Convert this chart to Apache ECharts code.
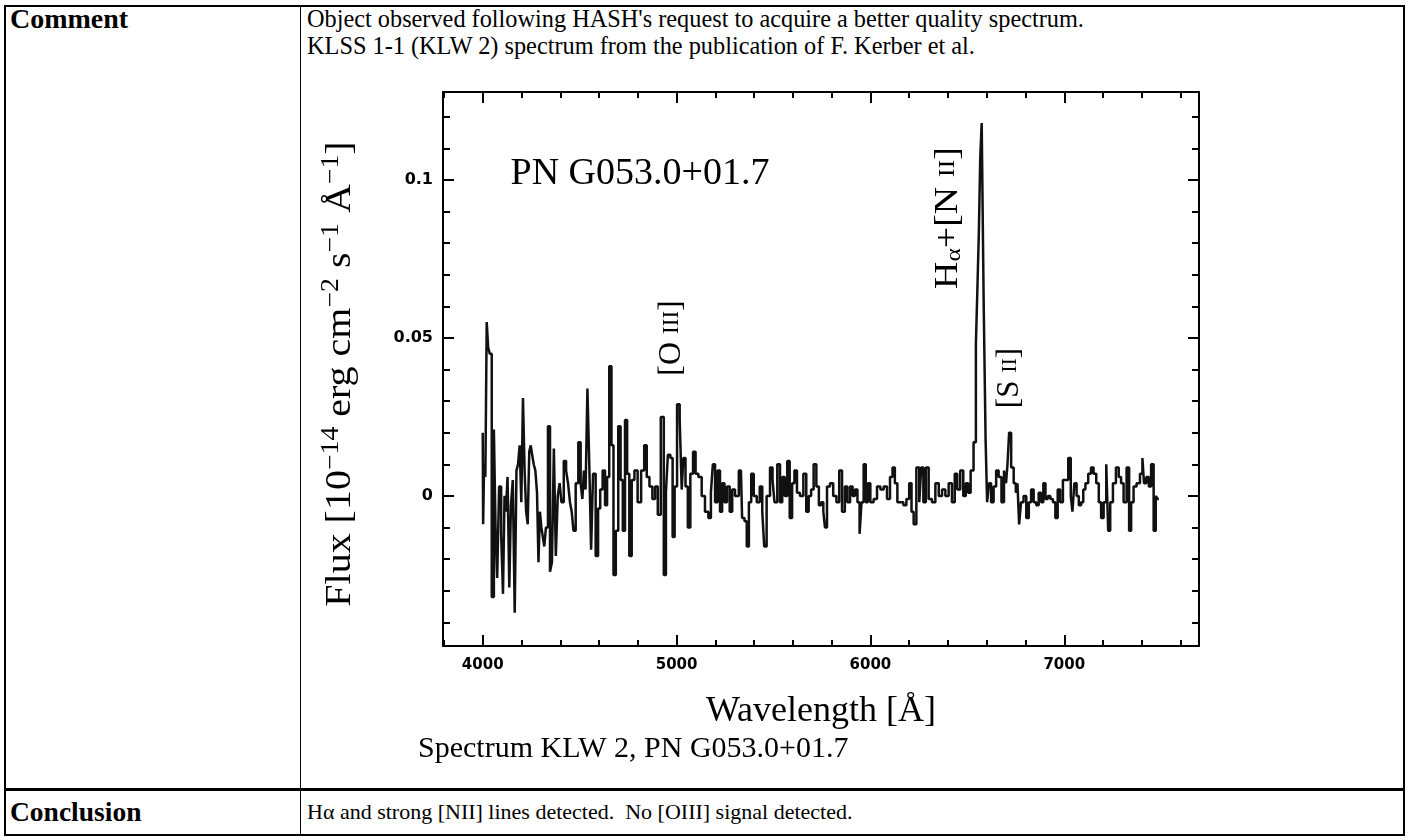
<!DOCTYPE html>
<html>
<head>
<meta charset="utf-8">
<script src="https://cdn.jsdelivr.net/npm/echarts@6/dist/echarts.min.js"></script>
<style>
  html, body { margin:0; padding:0; background:#fff; width:1410px; height:840px; overflow:hidden; }
  .line { position:absolute; background:#000; }
  .txt { position:absolute; font-family:"Liberation Serif","Times New Roman",serif; color:#000; white-space:nowrap; }
  .b { font-weight:bold; }
  #chart { position:absolute; left:0; top:0; width:1410px; height:840px; }
</style>
</head>
<body>
<div class="line" style="left:4px;top:5px;width:1401px;height:2px;"></div>
<div class="line" style="left:4px;top:834px;width:1401px;height:2px;"></div>
<div class="line" style="left:4px;top:5px;width:2px;height:831px;"></div>
<div class="line" style="left:1403px;top:5px;width:2px;height:831px;"></div>
<div class="line" style="left:300px;top:5px;width:1px;height:831px;"></div>
<div class="line" style="left:4px;top:788px;width:1401px;height:3px;"></div>

<div class="txt b" style="left:10px;top:4px;font-size:28px;line-height:30px;">Comment</div>
<div class="txt" style="left:307px;top:5px;font-size:24.3px;line-height:27px;">Object observed following HASH's request to acquire a better quality spectrum.<br>KLSS 1-1 (KLW 2) spectrum from the publication of F. Kerber et al.</div>
<div class="txt b" style="left:10px;top:797px;font-size:27.5px;line-height:30px;">Conclusion</div>
<div class="txt" style="left:307px;top:798px;font-size:22px;line-height:28px;">Hα and strong [NII] lines detected.&nbsp; No [OIII] signal detected.</div>

<div id="chart"></div>
<script>
// ---------------- data ----------------
const wavelength = [
  4000,4004,4010,4017,4024,4032,4040,4053,4062,4070,4079,4090,4100,4109,4116,4123,4133,4141,4150,4160,
  4170,4178,4186,4195,4203,4212,4220,4228,4236,4244,4251,4259,4267,4276,4284,4291,4299,4306,4314,4321,
  4331,4342,4352,4362,4372,4382,4392,4401,4411,4425,4435,4445,4455,4463,4473,4486,4500,4510,4518,4526,
  4535,4545,4555,4563,4575,4590,4600,4612,4625,4637,4646,4659,4669,4680,4693,4705,4717,4728,4740,4750,
  4762,4775,4790,4808,4826,4840,4852,4868,4882,4896,
  4910,4927,4941,4949,4961,4975,4984,4996,5009,5023,5030,5040,5052,5064,5078,5092,5104,5121,5138,5155,
  5173,5181,5193,5204,5219,5229,5241,5253,5267,5281,5293,5310,5332,5344,5357,5367,5379,5391,5405,5422,
  5436,5448,5456,5473,5491,5499,5511,5528,5539,5551,5565,5577,5590,5602,5614,5628,5645,5663,5675,5688,
  5700,5714,5728,5740,5752,5762,5769,5783,5800,
  5816,5833,5845,5862,5874,5888,5902,5914,5926,5940,5948,5960,5970,5982,5991,6008,6025,6043,6060,6077,
  6094,6108,6120,6132,6146,6163,6177,6194,6206,6218,6228,6246,6258,6266,6280,6292,6309,6326,6344,6361,
  6378,6395,6412,6429,6441,6455,6472,6486,6498,6510,6524,6540,6548,6556,6563,6570,6578,6590,6598,6606,
  6618,6627,6644,6653,6670,6682,6696,6703,6711,6720,6732,6746,6754,6763,6771,6783,6797,6811,6823,6835,
  6849,6862,6874,6887,6897,6909,6921,6935,6948,6960,6972,6986,7000,7012,7029,7038,7046,7058,7069,7081,
  7093,7103,7115,7132,7144,7158,7172,7184,7196,7210,7223,7230,7244,7258,7275,7287,7299,7313,7330,7339,
  7351,7364,7382,7399,7407,7416,7430,7442,7454,7468,7476,7488
];
const flux = [
  0.020,-0.009,0.010,0.006,0.055,0.047,0.045,-0.032,0.021,-0.010,-0.026,0.003,-0.012,-0.031,0.000,-0.005,0.006,-0.029,-0.003,0.005,
  -0.037,0.008,0.010,0.016,-0.002,0.031,0.008,-0.005,-0.009,0.014,0.016,0.013,0.010,0.008,0.001,-0.021,-0.005,-0.010,-0.013,-0.016,
  -0.010,0.022,-0.024,-0.021,0.015,-0.019,0.000,0.004,-0.002,0.011,0.008,0.004,-0.002,-0.005,-0.011,0.004,0.017,0.004,-0.001,0.008,
  0.002,0.034,0.009,-0.017,0.007,-0.019,-0.004,0.002,0.008,-0.003,0.006,0.041,0.016,-0.025,-0.011,0.022,0.005,-0.011,0.024,0.007,
  -0.019,0.005,0.008,-0.002,0.008,0.016,0.006,0.003,-0.001,0.003,
  -0.006,0.025,-0.025,0.001,0.013,0.012,-0.013,0.003,0.029,0.024,0.002,0.012,0.003,-0.010,0.007,0.014,0.007,0.006,0.000,-0.005,
  -0.007,0.001,0.010,-0.002,0.008,-0.005,0.004,-0.002,0.003,-0.005,0.002,0.000,0.008,-0.007,-0.008,-0.016,-0.002,0.007,0.000,-0.002,
  0.003,-0.005,-0.016,0.000,0.009,0.005,-0.002,0.010,-0.002,0.006,0.000,0.011,-0.007,0.004,0.008,0.001,0.000,0.007,-0.005,0.000,
  0.002,0.010,0.003,-0.003,-0.002,-0.005,-0.010,0.003,0.004,
  0.000,-0.002,0.008,-0.005,0.003,-0.002,0.003,0.000,0.002,-0.002,-0.012,-0.002,0.010,-0.002,0.004,-0.002,-0.001,0.003,0.002,0.003,
  -0.001,0.006,0.009,0.004,-0.002,-0.002,-0.003,-0.001,0.004,-0.005,-0.009,0.009,-0.002,0.009,-0.002,0.009,-0.001,-0.002,0.004,0.000,
  0.002,0.000,0.004,-0.002,0.007,0.002,0.008,0.000,0.004,0.001,0.008,0.017,0.048,0.066,0.084,0.107,0.118,0.062,0.018,-0.002,
  0.004,-0.002,0.003,0.008,0.006,-0.002,0.008,0.004,0.010,0.020,0.009,0.004,0.001,0.004,-0.009,-0.002,0.000,-0.007,-0.002,0.002,
  -0.002,-0.003,0.001,-0.002,0.004,-0.001,0.000,-0.001,-0.002,-0.007,0.002,-0.002,0.005,0.005,0.012,0.000,-0.005,0.004,0.000,-0.003,
  -0.002,0.002,0.004,0.007,0.009,0.007,0.004,-0.002,-0.007,-0.002,0.010,-0.011,-0.002,0.004,0.009,0.006,0.004,-0.002,0.009,-0.011,
  -0.002,0.003,0.004,0.007,0.012,0.004,0.006,0.003,0.010,-0.011,0.000,-0.001
];
const xMajorTicks = [4000, 5000, 6000, 7000];
const xTickLabels = ['4000', '5000', '6000', '7000'];
const xMinorTicks = [3800,4000,4200,4400,4600,4800,5000,5200,5400,5600,5800,6000,6200,6400,6600,6800,7000,7200,7400,7600];
const yMajorTicks = [0, 0.05, 0.1];
const yTickLabels = ['0', '0.05', '0.1'];
const yMinorTicks = [-0.04,-0.03,-0.02,-0.01,0,0.01,0.02,0.03,0.04,0.05,0.06,0.07,0.08,0.09,0.1,0.11,0.12];
const xRange = [3795, 7695];
const yRange = [-0.0475, 0.1278];

// ---------------- chart ----------------
const chart = echarts.init(document.getElementById('chart'), null, { renderer: 'canvas' });
const BLACK = '#000';
function labelFor(ticks, labels) {
  return function (v) {
    let best = 0;
    for (let i = 1; i < ticks.length; i++) if (Math.abs(ticks[i] - v) < Math.abs(ticks[best] - v)) best = i;
    return labels[best];
  };
}
function xAx(pos, major, showLine, showLabel) {
  return {
    type: 'value', position: pos, min: xRange[0], max: xRange[1],
    axisLine: { show: showLine, onZero: false, lineStyle: { color: BLACK, width: 2 } },
    axisTick: { show: true, inside: true, length: major ? 11 : 6, customValues: major ? xMajorTicks : xMinorTicks, lineStyle: { color: BLACK, width: 2 } },
    axisLabel: { show: showLabel, customValues: xMajorTicks, formatter: labelFor(xMajorTicks, xTickLabels), margin: 12,
      fontFamily: 'DejaVu Sans', fontWeight: 'bold', fontSize: 15, color: BLACK },
    splitLine: { show: false }
  };
}
function yAx(pos, major, showLine, showLabel) {
  return {
    type: 'value', position: pos, min: yRange[0], max: yRange[1],
    axisLine: { show: showLine, onZero: false, lineStyle: { color: BLACK, width: 2 } },
    axisTick: { show: true, inside: true, length: major ? 11 : 7, customValues: major ? yMajorTicks : yMinorTicks, lineStyle: { color: BLACK, width: 2 } },
    axisLabel: { show: showLabel, customValues: yMajorTicks, formatter: labelFor(yMajorTicks, yTickLabels), margin: 10,
      fontFamily: 'DejaVu Sans', fontWeight: 'bold', fontSize: 16, color: BLACK },
    splitLine: { show: false }
  };
}

const serif = '"Liberation Serif", "Times New Roman", serif';
const option = {
  animation: false,
  backgroundColor: 'transparent',
  grid: { left: 443, top: 92, width: 756, height: 554, containLabel: false },
  xAxis: [xAx('bottom', true, true, true), xAx('bottom', false, false, false), xAx('top', true, true, false), xAx('top', false, false, false)],
  yAxis: [yAx('left', true, true, true), yAx('left', false, false, false), yAx('right', true, true, false), yAx('right', false, false, false)],
  series: [{
    type: 'line', xAxisIndex: 0, yAxisIndex: 0, step: 'middle', showSymbol: false, symbol: 'none',
    lineStyle: { color: '#111', width: 2.5 },
    data: wavelength.map((w, i) => [w, flux[i]])
  }],
  graphic: [
    { type: 'text', x: 640, y: 174, style: { text: 'PN G053.0+01.7', fontFamily: serif, fontSize: 38, fill: BLACK, align: 'center', verticalAlign: 'middle' } },
    { type: 'text', x: 672, y: 338, rotation: Math.PI / 2, style: {
      text: '[O {sc|III}]', fontFamily: serif, fontSize: 32, fill: BLACK, align: 'center', verticalAlign: 'middle',
      rich: { sc: { fontFamily: serif, fontSize: 23, fill: BLACK } } } },
    { type: 'text', x: 948, y: 218, rotation: Math.PI / 2, scaleX: 1.15, style: {
      text: 'H{sub|α}+[N {sc|II}]', fontFamily: serif, fontSize: 33, fill: BLACK, align: 'center', verticalAlign: 'middle',
      rich: { sub: { fontFamily: serif, fontSize: 22, fill: BLACK, padding: [12, 0, 0, 0] }, sc: { fontFamily: serif, fontSize: 23, fill: BLACK } } } },
    { type: 'text', x: 1010, y: 378, rotation: Math.PI / 2, style: {
      text: '[S {sc|II}]', fontFamily: serif, fontSize: 31, fill: BLACK, align: 'center', verticalAlign: 'middle',
      rich: { sc: { fontFamily: serif, fontSize: 22, fill: BLACK } } } },
    { type: 'text', x: 341, y: 374, rotation: Math.PI / 2, scaleX: 1.11, style: {
      text: 'Flux [10{sup|−14} erg cm{sup|−2} s{sup|−1} Å{sup|−1}]', fontFamily: serif, fontSize: 36, fill: BLACK, align: 'center', verticalAlign: 'middle',
      rich: { sup: { fontFamily: serif, fontSize: 25, fill: BLACK, padding: [0, 0, 20, 0] } } } },
    { type: 'text', x: 821, y: 712, style: { text: 'Wavelength [Å]', fontFamily: serif, fontSize: 36, fill: BLACK, align: 'center', verticalAlign: 'middle' } },
    { type: 'text', x: 418, y: 749, style: { text: 'Spectrum KLW 2, PN G053.0+01.7', fontFamily: serif, fontSize: 30, fill: BLACK, align: 'left', verticalAlign: 'middle' } }
  ]
};
chart.setOption(option);
</script>
</body>
</html>
